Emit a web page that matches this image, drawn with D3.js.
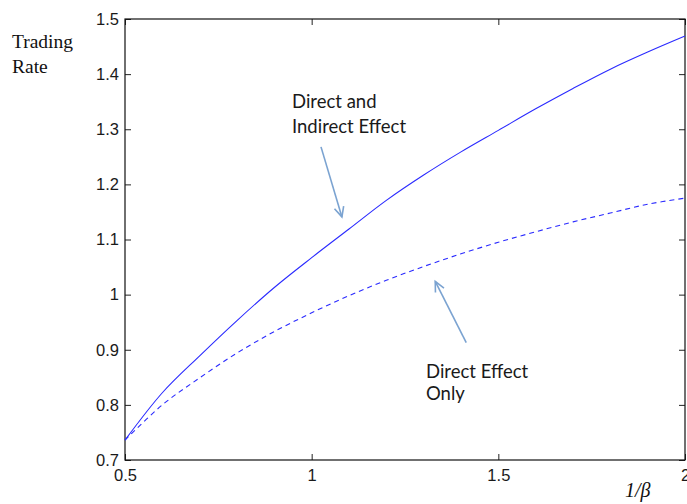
<!DOCTYPE html>
<html>
<head>
<meta charset="utf-8">
<script src="https://cdn.jsdelivr.net/npm/d3@7"></script>
<style>
  body { margin: 0; background: #fff; }
  svg { display: block; }
</style>
</head>
<body>
<div id="chart"></div>
<script>
// values
var xValues   = [0.5, 0.6, 0.7, 0.8, 0.9, 1.0, 1.1, 1.2, 1.3, 1.4, 1.5, 1.6, 1.7, 1.8, 1.9, 2.0];
var bothEffects = [0.736, 0.822, 0.889, 0.953, 1.013, 1.067, 1.119, 1.171, 1.217, 1.259, 1.298, 1.337, 1.374, 1.409, 1.440, 1.469];
var directOnly  = [0.736, 0.800, 0.849, 0.894, 0.933, 0.967, 0.998, 1.026, 1.051, 1.074, 1.095, 1.114, 1.132, 1.148, 1.164, 1.175];
var xTicks = [0.5, 1, 1.5, 2];
var yTicks = [0.7, 0.8, 0.9, 1, 1.1, 1.2, 1.3, 1.4, 1.5];

// annotation arrows, [tail, tip] in data units
var arrows = [
  [[1.025, 1.268], [1.081, 1.141]],
  [[1.414, 0.913], [1.331, 1.024]]
];

var width = 687, height = 504;
var plotLeft = 125, plotRight = 685, plotTop = 19, plotBottom = 460;

var svg = d3.select("#chart").append("svg")
    .attr("width", width)
    .attr("height", height);

var x = d3.scaleLinear().domain([0.5, 2]).range([plotLeft, plotRight]);
var y = d3.scaleLinear().domain([0.7, 1.5]).range([plotBottom, plotTop]);

var fmt = function (d) { return d3.format("")(d); };

// axes, ticks pointing inward
svg.append("g")
    .attr("transform", "translate(0," + plotBottom + ")")
    .call(d3.axisBottom(x).tickValues(xTicks).tickFormat(fmt).tickSizeInner(-6).tickSizeOuter(0).tickPadding(9))
    .call(function (g) {
      g.selectAll("text").attr("font-family", "Liberation Sans, Arial, sans-serif").attr("font-size", 16.5).attr("fill", "#1a1a1a");
    });

svg.append("g")
    .attr("transform", "translate(" + plotLeft + ",0)")
    .call(d3.axisLeft(y).tickValues(yTicks).tickFormat(fmt).tickSizeInner(-6).tickSizeOuter(0).tickPadding(6))
    .call(function (g) {
      g.selectAll("text").attr("font-family", "Liberation Sans, Arial, sans-serif").attr("font-size", 16.5).attr("fill", "#1a1a1a");
    });

svg.append("g")
    .attr("transform", "translate(0," + plotTop + ")")
    .call(d3.axisTop(x).tickValues(xTicks).tickFormat("").tickSizeInner(-6).tickSizeOuter(0));

svg.append("g")
    .attr("transform", "translate(" + plotRight + ",0)")
    .call(d3.axisRight(y).tickValues(yTicks).tickFormat("").tickSizeInner(-6).tickSizeOuter(0));

svg.selectAll(".domain").remove();
svg.selectAll(".tick line").attr("stroke", "#222");

svg.append("rect")
    .attr("x", plotLeft).attr("y", plotTop)
    .attr("width", plotRight - plotLeft).attr("height", plotBottom - plotTop)
    .attr("fill", "none").attr("stroke", "#111").attr("stroke-width", 1.2);

// curves
var line = d3.line()
    .x(function (d) { return x(d[0]); })
    .y(function (d) { return y(d[1]); })
    .curve(d3.curveCatmullRom);

svg.append("path")
    .datum(d3.zip(xValues, bothEffects))
    .attr("d", line)
    .attr("fill", "none")
    .attr("stroke", "#2a2aff")
    .attr("stroke-width", 1.1);

svg.append("path")
    .datum(d3.zip(xValues, directOnly))
    .attr("d", line)
    .attr("fill", "none")
    .attr("stroke", "#2a2aff")
    .attr("stroke-width", 1.1)
    .attr("stroke-dasharray", "5,4");

// arrows
var arrowColor = "#7ba3d1";
arrows.forEach(function (a) {
  var x1 = x(a[0][0]), y1 = y(a[0][1]), x2 = x(a[1][0]), y2 = y(a[1][1]);
  var ang = Math.atan2(y2 - y1, x2 - x1);
  var len = 11, spread = 0.45;
  svg.append("line")
      .attr("x1", x1).attr("y1", y1).attr("x2", x2).attr("y2", y2)
      .attr("stroke", arrowColor).attr("stroke-width", 1.6);
  svg.append("path")
      .attr("d", "M" + (x2 - len * Math.cos(ang - spread)) + "," + (y2 - len * Math.sin(ang - spread)) +
                 "L" + x2 + "," + y2 +
                 "L" + (x2 - len * Math.cos(ang + spread)) + "," + (y2 - len * Math.sin(ang + spread)))
      .attr("fill", "none").attr("stroke", arrowColor).attr("stroke-width", 1.6);
});

// annotation text
var note = svg.append("g")
    .attr("font-family", "Lato, Open Sans, sans-serif")
    .attr("font-size", 18.5)
    .attr("fill", "#1a1a1a");
note.append("text").attr("x", 292).attr("y", 108).text("Direct and");
note.append("text").attr("x", 292).attr("y", 133).text("Indirect Effect");
note.append("text").attr("x", 426).attr("y", 378).text("Direct Effect");
note.append("text").attr("x", 426).attr("y", 400).text("Only");

// axis titles
var serif = svg.append("g")
    .attr("font-family", "Liberation Serif, Times New Roman, serif")
    .attr("fill", "#111");
serif.append("text").attr("x", 12).attr("y", 48).attr("font-size", 19.5).text("Trading");
serif.append("text").attr("x", 12).attr("y", 73).attr("font-size", 19.5).text("Rate");
serif.append("text").attr("x", 625).attr("y", 497).attr("font-size", 20)
    .attr("font-style", "italic").text("1/β");
</script>
</body>
</html>
